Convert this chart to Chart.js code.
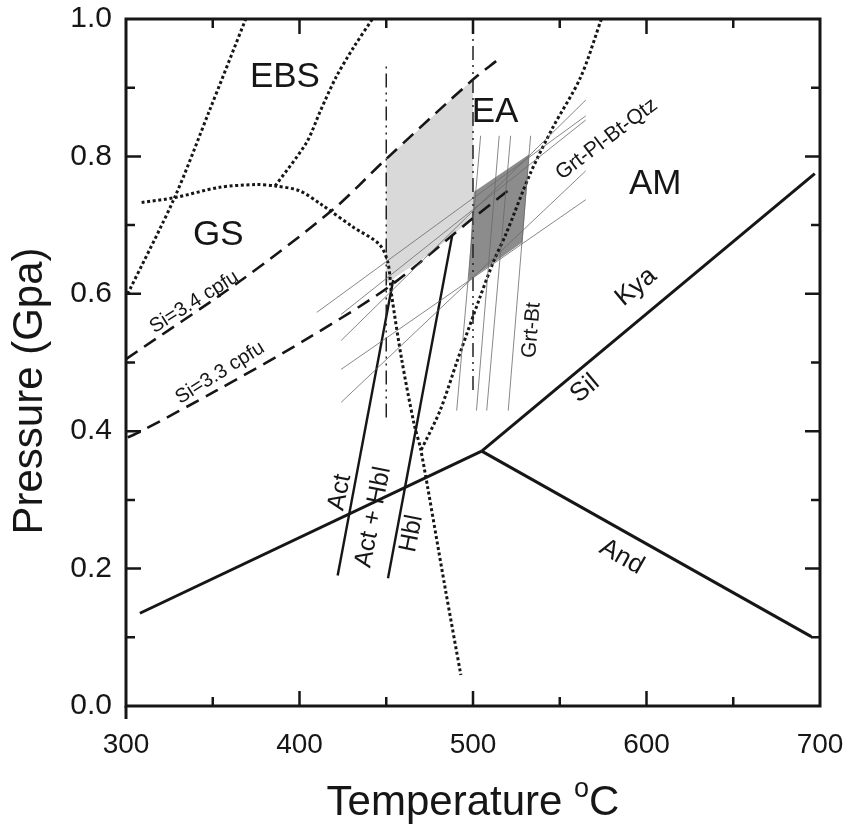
<!DOCTYPE html>
<html>
<head>
<meta charset="utf-8">
<script src="https://cdn.jsdelivr.net/npm/chart.js@4"></script>
<style>
	html, body { margin: 0; padding: 0; background: #fff; }
</style>
</head>
<body>
<canvas id="pt-chart" width="845" height="828"></canvas>
<script>
// P-T grid, points are [T (°C), P (GPa)]
// Al2SiO5 triple point lines
const kyaAnd = [[308, 0.135], [505, 0.371]]
const kyaSil = [[505, 0.371], [697, 0.775]]
const andSil = [[505, 0.371], [695, 0.101]]

// actinolite / hornblende boundaries
const actLine = [[422, 0.19], [454, 0.62]]
const hblLine = [[451, 0.186], [488, 0.685]]

// phengite Si isopleths
const si34 = [[300, 0.505], [366, 0.619], [419.5, 0.723], [449, 0.794], [500, 0.912], [514, 0.94]]
const si33 = [[301, 0.391], [308, 0.399], [352, 0.459], [404, 0.534], [452, 0.611], [500, 0.71], [523, 0.756]]

// isotherms (dash-dot)
const iso450 = [[450, 0.42], [450, 0.935]]
const iso500 = [[500, 0.46], [500, 1.0]]

// facies boundaries (dotted)
const ebsLeft = [[301, 0.6], [328, 0.74], [348, 0.866], [369, 1.0]]
const gsBoundary = [[309, 0.733], [328, 0.74], [354, 0.755], [375, 0.759], [386, 0.757], [400, 0.75], [412, 0.731], [431, 0.697], [446, 0.672], [451, 0.645], [453, 0.6], [459, 0.503], [466, 0.411], [470, 0.372], [484, 0.171], [493, 0.045]]
const ebsEa = [[386, 0.757], [404, 0.82], [412, 0.866], [421, 0.915], [431, 0.958], [442, 1.0]]
const eaAm = [[574, 1.0], [562, 0.915], [546, 0.842], [533, 0.775], [519, 0.687], [512, 0.648], [504, 0.595], [491, 0.503], [481, 0.43], [470, 0.372]]

// Grt-Bt thermometer lines: T at the low and high pressure ends
const grtBtP = [0.43, 0.83]
const grtBtLowT = [490.6, 502, 507.9, 520.3]
const grtBtHighT = [504.4, 515.1, 521.7, 533.2]

// Grt-Pl-Bt-Qtz barometer lines: left and right end points
const gpbqLeft = [[410, 0.573], [424, 0.532], [424, 0.57], [424, 0.49], [424, 0.442]]
const gpbqRight = [[565, 0.859], [565, 0.882], [565, 0.853], [565, 0.737], [565, 0.779]]

// shaded P-T fields
const lightBox = [[450, 0.615], [450, 0.795], [475, 0.854], [500, 0.912], [500, 0.71], [475, 0.658], [450, 0.615]]
const darkBox = [[497.3, 0.619], [500.4, 0.748], [532.4, 0.803], [528.6, 0.675], [497.3, 0.619]]

// axis ticks
const xMajorTicks = [400, 500, 600]
const xMinorTicks = [350, 450, 550, 650]
const yMajorTicks = [0.2, 0.4, 0.6, 0.8]
const yMinorTicks = [0.1, 0.3, 0.5, 0.7, 0.9]

// field names
const regionNames = ['EBS', 'GS', 'EA', 'AM']
const regionT = [391.6, 353.2, 512.7, 605]
const regionP = [0.915, 0.685, 0.864, 0.76]

// labels written along the curves
const curveLabels = [
	{ text: 'Kya', t: 594, p: 0.61, angle: -40, size: 26 },
	{ text: 'Sil', t: 564.6, p: 0.462, angle: -40, size: 26 },
	{ text: 'And', t: 585.7, p: 0.217, angle: 29.5, size: 26 },
	{ text: 'Act', t: 423.3, p: 0.311, angle: -78.6, size: 25 },
	{ text: 'Act + Hbl', t: 442.5, p: 0.275, angle: -78.6, size: 25 },
	{ text: 'Hbl', t: 464.6, p: 0.251, angle: -78.6, size: 25 },
	{ text: 'Grt-Bt', t: 533.8, p: 0.547, angle: -85, size: 21 },
	{ text: 'Grt-Pl-Bt-Qtz', t: 577, p: 0.825, angle: -37, size: 21 },
	{ text: 'Si=3.4 cpfu', t: 339.3, p: 0.588, angle: -32, size: 20 },
	{ text: 'Si=3.3 cpfu', t: 354.2, p: 0.485, angle: -32, size: 20 }
]

const FONT = 'Arial, "Liberation Sans", sans-serif'
const INK = '#161616'

function toXY(points) {
	return points.map(([x, y]) => ({ x, y }))
}

function line(points, style) {
	return Object.assign({ data: toXY(points), pointRadius: 0, fill: false, tension: 0 }, style)
}

const thick = { borderColor: INK, borderWidth: 3 }
const medium = { borderColor: INK, borderWidth: 2.4 }
const dashed = { borderColor: INK, borderWidth: 2.6, borderDash: [14, 8] }
const dotted = { borderColor: INK, borderWidth: 3, borderDash: [3, 2.6], tension: 0.3 }
const dashDot = { borderColor: '#222', borderWidth: 1.5, borderDash: [14, 5, 2, 5, 2, 5] }
const thin = { borderColor: '#6a6a6a', borderWidth: 0.8 }

let datasets = []
// shaded fields first
datasets.push(line(lightBox, { borderWidth: 0, backgroundColor: '#d9d9d9', fill: 'shape' }))
datasets.push(line(darkBox, { borderWidth: 0, backgroundColor: '#8c8c8c', fill: 'shape' }))

grtBtLowT.forEach((t, i) => {
	datasets.push(line([[t, grtBtP[0]], [grtBtHighT[i], grtBtP[1]]], thin))
})
gpbqLeft.forEach((pt, i) => {
	datasets.push(line([pt, gpbqRight[i]], thin))
})

datasets.push(line(iso450, dashDot))
datasets.push(line(iso500, dashDot))
datasets.push(line(ebsLeft, dotted))
datasets.push(line(gsBoundary, dotted))
datasets.push(line(ebsEa, dotted))
datasets.push(line(eaAm, dotted))
datasets.push(line(si34, Object.assign({}, dashed, { tension: 0.3 })))
datasets.push(line(si33, Object.assign({}, dashed, { tension: 0.3 })))
datasets.push(line(actLine, medium))
datasets.push(line(hblLine, medium))
datasets.push(line(kyaAnd, thick))
datasets.push(line(kyaSil, thick))
datasets.push(line(andSil, thick))

// frame with inward ticks on all four sides, plus axis titles
const framePlugin = {
	id: 'frame',
	afterDraw(chart) {
		const { ctx, chartArea: a, scales: { x, y } } = chart
		ctx.save()
		ctx.strokeStyle = INK
		ctx.lineWidth = 3
		ctx.strokeRect(a.left, a.top, a.right - a.left, a.bottom - a.top)
		// left axis runs a little below the bottom one
		ctx.beginPath()
		ctx.moveTo(a.left, a.bottom)
		ctx.lineTo(a.left, a.bottom + 13)
		ctx.stroke()

		ctx.lineWidth = 2.5
		ctx.beginPath()
		const xTick = (v, len) => {
			const px = x.getPixelForValue(v)
			ctx.moveTo(px, a.bottom); ctx.lineTo(px, a.bottom - len)
			ctx.moveTo(px, a.top); ctx.lineTo(px, a.top + len)
		}
		const yTick = (v, len) => {
			const py = y.getPixelForValue(v)
			ctx.moveTo(a.left, py); ctx.lineTo(a.left + len, py)
			ctx.moveTo(a.right, py); ctx.lineTo(a.right - len, py)
		}
		xMajorTicks.forEach(v => xTick(v, 15))
		xMinorTicks.forEach(v => xTick(v, 9))
		yMajorTicks.forEach(v => yTick(v, 15))
		yMinorTicks.forEach(v => yTick(v, 9))
		ctx.stroke()

		ctx.fillStyle = INK
		// y title
		ctx.save()
		ctx.translate(30, 391)
		ctx.rotate(-Math.PI / 2)
		ctx.textAlign = 'center'
		ctx.textBaseline = 'middle'
		ctx.font = '42px ' + FONT
		ctx.fillText('Pressure (Gpa)', 0, 0)
		ctx.restore()

		// x title with raised "o"
		const main = 'Temperature ', sup = 'o', unit = 'C'
		ctx.font = '42px ' + FONT
		const w1 = ctx.measureText(main).width
		const w3 = ctx.measureText(unit).width
		ctx.font = '27px ' + FONT
		const w2 = ctx.measureText(sup).width
		let start = (a.left + a.right) / 2 - (w1 + w2 + w3) / 2
		const base = 815
		ctx.textAlign = 'left'
		ctx.textBaseline = 'alphabetic'
		ctx.font = '42px ' + FONT
		ctx.fillText(main, start, base)
		ctx.font = '27px ' + FONT
		ctx.fillText(sup, start + w1, base - 18)
		ctx.font = '42px ' + FONT
		ctx.fillText(unit, start + w1 + w2, base)
		ctx.restore()
	}
}

const textPlugin = {
	id: 'fieldText',
	afterDatasetsDraw(chart) {
		const { ctx, scales: { x, y } } = chart
		ctx.save()
		ctx.fillStyle = INK
		ctx.textAlign = 'center'
		ctx.textBaseline = 'middle'
		ctx.font = '35px ' + FONT
		regionNames.forEach((name, i) => {
			ctx.fillText(name, x.getPixelForValue(regionT[i]), y.getPixelForValue(regionP[i]))
		})
		curveLabels.forEach(l => {
			ctx.save()
			ctx.translate(x.getPixelForValue(l.t), y.getPixelForValue(l.p))
			ctx.rotate(l.angle * Math.PI / 180)
			ctx.font = l.size + 'px ' + FONT
			ctx.fillText(l.text, 0, 0)
			ctx.restore()
		})
		ctx.restore()
	}
}

// tick labels may hang over the plot edges; the outer padding already leaves room
function noEdgePadding(scale) {
	scale.paddingLeft = 0
	scale.paddingRight = 0
	scale.paddingTop = 0
	scale.paddingBottom = 0
}

const ptChart = new Chart(document.querySelector('#pt-chart'), {
	type: 'line',
	data: { datasets },
	options: {
		responsive: false,
		animation: false,
		devicePixelRatio: 1,
		layout: { padding: { left: 0, right: 25, top: 19, bottom: 0 } },
		plugins: {
			legend: { display: false },
			tooltip: { enabled: false },
			filler: { drawTime: 'beforeDatasetsDraw' }
		},
		scales: {
			x: {
				type: 'linear',
				min: 300,
				max: 700,
				grid: { display: false, drawTicks: false },
				border: { display: false },
				ticks: { stepSize: 100, color: INK, padding: 22, font: { size: 28, family: FONT } },
				afterFit: scale => { scale.height = 122; noEdgePadding(scale) }
			},
			y: {
				type: 'linear',
				min: 0,
				max: 1,
				grid: { display: false, drawTicks: false },
				border: { display: false },
				ticks: { stepSize: 0.2, color: INK, padding: 14, font: { size: 30, family: FONT }, callback: v => v.toFixed(1) },
				afterFit: scale => { scale.width = 126; noEdgePadding(scale) }
			}
		}
	},
	plugins: [textPlugin, framePlugin]
})
</script>
</body>
</html>
